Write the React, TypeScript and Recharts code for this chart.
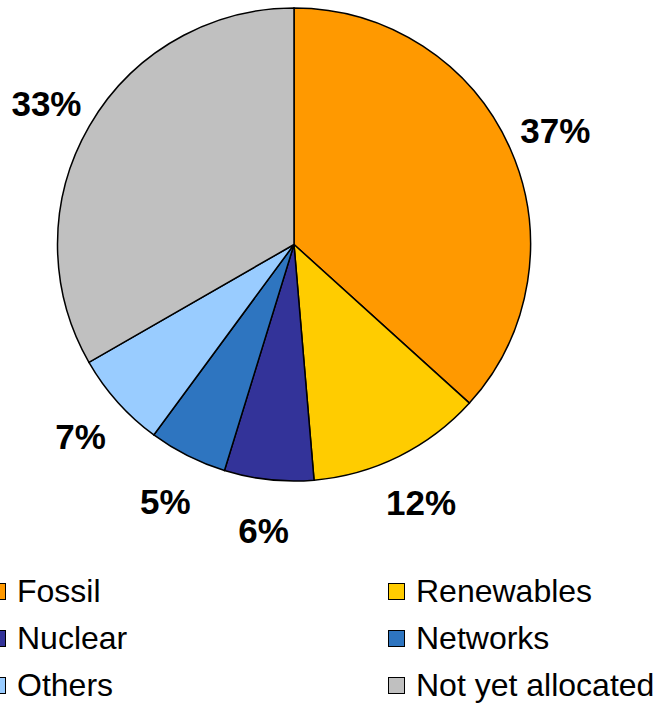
import { PieChart, Pie, Cell, Legend } from "recharts";

const categories = ["Fossil", "Renewables", "Nuclear", "Networks", "Others", "Not yet allocated"];
const shares = [36.7, 11.95, 6.1, 5.35, 6.6, 33.3];
const colors = ["#FF9900", "#FFCC00", "#333399", "#2E75C0", "#99CCFF", "#C0C0C0"];

const data = categories.map((name, i) => ({ name, value: shares[i], fill: colors[i] }));

const RADIAN = Math.PI / 180;
const FONT = "'Liberation Sans', Arial, sans-serif";

function renderLabel(props: any) {
  const { cx, cy, midAngle, value } = props;
  const r = 286;
  const x = cx + r * Math.cos(-midAngle * RADIAN);
  const y = cy + r * Math.sin(-midAngle * RADIAN) + 2;
  return (
    <text
      x={x}
      y={y}
      textAnchor="middle"
      dominantBaseline="central"
      fill="#000"
      fontFamily={FONT}
      fontWeight="bold"
      fontSize={35}
    >
      {`${Math.round(value)}%`}
    </text>
  );
}

function LegendBox() {
  return (
    <div style={{ position: "relative", width: 656, height: 140 }}>
      {data.map((d, i) => {
        const col = i % 2;
        const row = Math.floor(i / 2);
        const left = col === 0 ? -11 : 388;
        const top = row * 47;
        return (
          <div
            key={d.name}
            style={{
              position: "absolute",
              left,
              top,
              height: 46,
              display: "flex",
              alignItems: "center",
              whiteSpace: "nowrap",
              fontFamily: FONT,
              fontSize: 32,
              color: "#000",
            }}
          >
            <span
              style={{
                display: "inline-block",
                width: 15,
                height: 15,
                background: d.fill,
                border: "1.5px solid #000",
                marginRight: 11,
              }}
            />
            {d.name}
          </div>
        );
      })}
    </div>
  );
}

export default function App() {
  return (
    <div style={{ position: "absolute", left: 0, top: 0 }}>
      <PieChart width={656} height={705} margin={{ top: 0, right: 0, bottom: 0, left: 0 }}>
        <Pie
          data={data}
          dataKey="value"
          nameKey="name"
          cx={294}
          cy={244.5}
          outerRadius={236.5}
          startAngle={90}
          endAngle={-270}
          stroke="#000"
          strokeWidth={1.5}
          label={renderLabel}
          labelLine={false}
          isAnimationActive={false}
        >
          {data.map((d) => (
            <Cell key={d.name} fill={d.fill} />
          ))}
        </Pie>
        <Legend
          content={() => <LegendBox />}
          wrapperStyle={{ position: "absolute", left: 0, top: 568, width: 656 }}
        />
      </PieChart>
    </div>
  );
}
